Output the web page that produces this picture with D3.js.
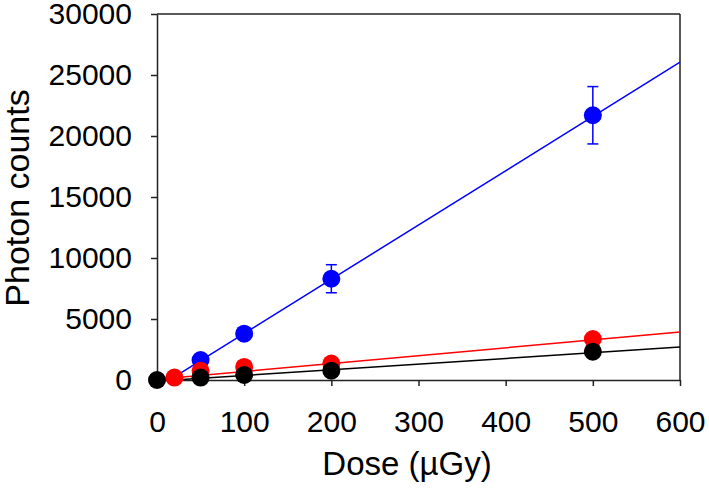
<!DOCTYPE html>
<html><head><meta charset="utf-8">
<script src="https://cdn.jsdelivr.net/npm/d3@7"></script>
<style>body{margin:0;background:#fff}svg{display:block}text{font-family:"Liberation Sans",Arial,sans-serif;fill:#000}</style>
</head><body>
<svg id="c" width="709" height="492"></svg>
<script>
const blueX = [50, 100, 200, 500];
const blueY = [1640, 3800, 8300, 21700];
const blueErr = [250, 450, 1150, 2350];
const redX = [20, 50, 100, 200, 500];
const redY = [200, 750, 1070, 1350, 3360];
const blackX = [0, 50, 100, 200, 500];
const blackY = [0, 200, 420, 760, 2320];
const fitX = [20, 600];
const blueFit = [250, 26050];
const redFit = [180, 3930];
const blackFit = [0, 2700];
const xTicks = [0, 100, 200, 300, 400, 500, 600];
const yTicks = [0, 5000, 10000, 15000, 20000, 25000, 30000];

const svg = d3.select("#c");
const L = 157, R = 680, T = 14, B = 380;
const x = d3.scaleLinear().domain([0, 600]).range([L, R]);
const y = d3.scaleLinear().domain([0, 30000]).range([B, T]);

svg.append("line").attr("x1", L).attr("x2", R).attr("y1", T).attr("y2", T).attr("stroke", "#222").attr("stroke-width", 1.5);
svg.append("line").attr("x1", R).attr("x2", R).attr("y1", T).attr("y2", B).attr("stroke", "#222").attr("stroke-width", 1.5);

const xAxis = svg.append("g").attr("transform", `translate(0,${B})`)
  .call(d3.axisBottom(x).tickValues(xTicks).tickFormat(d3.format("d")).tickSize(6).tickPadding(25).tickSizeOuter(0));
const yAxis = svg.append("g").attr("transform", `translate(${L},0)`)
  .call(d3.axisLeft(y).tickValues(yTicks).tickFormat(d3.format("d")).tickSize(6).tickPadding(19).tickSizeOuter(0));
[xAxis, yAxis].forEach(g => {
  g.select(".domain").attr("stroke", "#222").attr("stroke-width", 1.5);
  g.selectAll(".tick line").attr("stroke", "#222").attr("stroke-width", 1.5);
  g.selectAll("text").style("font-size", "30px").style("font-family", "Liberation Sans, Arial, sans-serif").attr("fill", "#000");
});

svg.append("text").attr("x", 407).attr("y", 475).attr("text-anchor", "middle")
  .style("font-size", "33px").text("Dose (µGy)");
svg.append("text").attr("transform", "translate(29,198) rotate(-90)").attr("text-anchor", "middle")
  .style("font-size", "34px").text("Photon counts");

const line = d3.line().x(d => x(d[0])).y(d => y(d[1]));
function fit(vals, color) {
  svg.append("path").datum(fitX.map((d, i) => [d, vals[i]])).attr("d", line)
    .attr("fill", "none").attr("stroke", color).attr("stroke-width", 1.5);
}
fit(blackFit, "#000");
fit(redFit, "#ff0000");
fit(blueFit, "#0000ff");

const eb = svg.append("g").attr("stroke", "#0000ff").attr("stroke-width", 1.5);
blueX.forEach((d, i) => {
  const cx = x(d), hi = y(blueY[i] + blueErr[i]), lo = y(blueY[i] - blueErr[i]);
  eb.append("line").attr("x1", cx).attr("x2", cx).attr("y1", hi).attr("y2", lo);
  eb.append("line").attr("x1", cx - 5.5).attr("x2", cx + 5.5).attr("y1", hi).attr("y2", hi);
  eb.append("line").attr("x1", cx - 5.5).attr("x2", cx + 5.5).attr("y1", lo).attr("y2", lo);
});

function pts(xs, ys, color) {
  svg.append("g").selectAll("circle").data(xs).join("circle")
    .attr("cx", d => x(d)).attr("cy", (d, i) => y(ys[i])).attr("r", 9).attr("fill", color);
}
pts(blueX, blueY, "#0000ff");
pts(redX, redY, "#ff0000");
pts(blackX, blackY, "#000");
</script>
</body></html>
